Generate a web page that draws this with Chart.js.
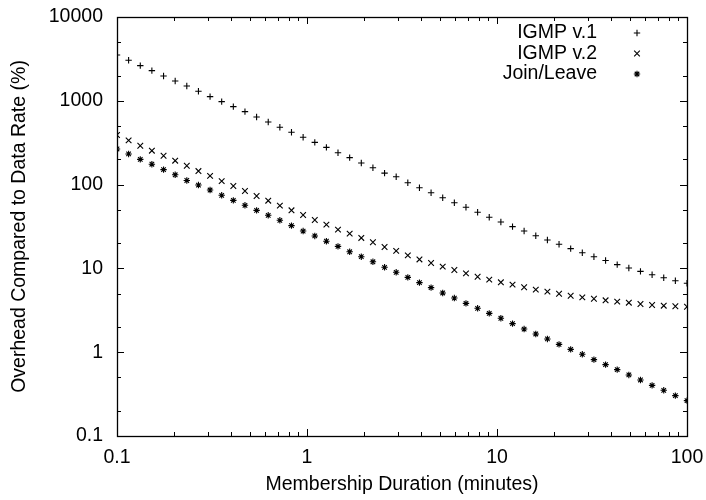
<!DOCTYPE html>
<html>
<head>
<meta charset="utf-8">
<script src="https://cdn.jsdelivr.net/npm/chart.js@4/dist/chart.umd.min.js"></script>
<style>
  html, body { margin: 0; padding: 0; background: #ffffff; }
  #wrap { width: 706px; height: 500px; }
</style>
</head>
<body>
<div id="wrap"><canvas id="c" width="706" height="500"></canvas></div>
<script>
// ---- data ----
const membershipMinutes = [0.1, 0.1151, 0.1326, 0.1526, 0.1758, 0.2024, 0.2330, 0.2683, 0.3089, 0.3556,
  0.4095, 0.4715, 0.5429, 0.6251, 0.7197, 0.8286, 0.9541, 1.099, 1.265, 1.456,
  1.677, 1.931, 2.223, 2.560, 2.947, 3.393, 3.907, 4.498, 5.179, 5.964,
  6.866, 7.906, 9.103, 10.48, 12.07, 13.89, 16.00, 18.42, 21.21, 24.42,
  28.12, 32.37, 37.28, 42.92, 49.42, 56.90, 65.51, 75.43, 86.85, 100];
const igmpV1 = [3520, 3041, 2627, 2289, 1978, 1723, 1502, 1298, 1121, 977,
  852, 742, 641, 559, 483, 421, 367, 319, 278, 240,
  210, 181, 159, 137, 124, 105, 91.8, 80.0, 69.8, 60.8,
  53.6, 46.7, 40.7, 35.8, 31.5, 27.9, 24.5, 21.8, 19.4, 17.2,
  15.4, 13.8, 12.4, 11.1, 10.1, 9.22, 8.41, 7.74, 7.13, 6.64];
const igmpV2 = [391, 337, 291, 254, 221, 193, 168, 145, 127, 110,
  96.2, 83.9, 73.1, 64.3, 56.1, 49.3, 43.4, 37.8, 33.3, 29.0,
  26.0, 23.1, 20.5, 18.0, 16.2, 14.3, 12.8, 11.6, 10.5, 9.57,
  8.73, 7.96, 7.34, 6.82, 6.40, 5.95, 5.58, 5.28, 4.99, 4.72,
  4.51, 4.35, 4.16, 4.01, 3.90, 3.76, 3.66, 3.59, 3.53, 3.49];
const joinLeave = [266, 232, 200, 175, 151, 131, 112, 98.8, 86.2, 74.5,
  64.9, 56.6, 49.3, 43.0, 37.5, 32.4, 27.9, 24.4, 21.1, 18.3,
  15.8, 13.8, 12.0, 10.3, 8.98, 7.82, 6.76, 5.89, 5.09, 4.43,
  3.83, 3.34, 2.91, 2.54, 2.19, 1.89, 1.65, 1.44, 1.24, 1.08,
  0.944, 0.815, 0.710, 0.619, 0.535, 0.466, 0.402, 0.351, 0.303, 0.264];
const seriesLabels = ['IGMP v.1', 'IGMP v.2', 'Join/Leave'];
const xTickValues = [0.1, 1, 10, 100];
const xTickLabels = ['0.1', '1', '10', '100'];
const yTickValues = [0.1, 1, 10, 100, 1000, 10000];
const yTickLabels = ['0.1', '1', '10', '100', '1000', '10000'];
const xAxisTitle = 'Membership Duration (minutes)';
const yAxisTitle = 'Overhead Compared to Data Rate (%)';

// ---- styling ----
const FONT = "'Liberation Sans', Arial, Helvetica, sans-serif";
const FS = 19.5;
const INK = '#000000';

function toPoints(ys) { return membershipMinutes.map((x, i) => ({ x: x, y: ys[i] })); }

const pointStyles = ['cross', 'crossRot', 'star'];
const pointRadii = [3.2, 4, 3.2];

const datasets = [igmpV1, igmpV2, joinLeave].map((ys, i) => ({
  label: seriesLabels[i],
  data: toPoints(ys),
  showLine: false,
  pointStyle: pointStyles[i],
  pointRadius: pointRadii[i],
  pointHoverRadius: pointRadii[i],
  pointBorderColor: INK,
  pointBackgroundColor: INK,
  pointBorderWidth: 1.1,
  borderColor: INK,
  backgroundColor: INK
}));

function zeroPad(scale) {
  scale.paddingTop = 0; scale.paddingBottom = 0;
  scale.paddingLeft = 0; scale.paddingRight = 0;
}

// frame + inward ticks, gnuplot-like
const framePlugin = {
  id: 'frame',
  beforeDatasetsDraw(chart) {
    const { ctx, chartArea: a, scales } = chart;
    const xs = scales.x, ys = scales.y;
    ctx.save();
    ctx.strokeStyle = INK;
    ctx.lineWidth = 1;
    const MAJ = 7, MIN = 4;
    for (let d = -1; d <= 2; d++) {
      for (let m = 1; m <= 9; m++) {
        const v = m * Math.pow(10, d);
        if (v < xs.min * 0.999 || v > xs.max * 1.001) continue;
        const px = Math.round(xs.getPixelForValue(v)) + 0.5;
        const len = m === 1 ? MAJ : MIN;
        ctx.beginPath();
        ctx.moveTo(px, a.bottom); ctx.lineTo(px, a.bottom - len);
        ctx.moveTo(px, a.top); ctx.lineTo(px, a.top + len);
        ctx.stroke();
      }
    }
    for (let d = -1; d <= 4; d++) {
      for (const m of [1, 2, 5]) {
        const v = m * Math.pow(10, d);
        if (v < ys.min * 0.999 || v > ys.max * 1.001) continue;
        const py = Math.round(ys.getPixelForValue(v)) + 0.5;
        const len = m === 1 ? MAJ : MIN;
        ctx.beginPath();
        ctx.moveTo(a.left, py); ctx.lineTo(a.left + len, py);
        ctx.moveTo(a.right, py); ctx.lineTo(a.right - len, py);
        ctx.stroke();
      }
    }
    ctx.lineWidth = 1.3;
    ctx.strokeRect(Math.round(a.left) + 0.5, Math.round(a.top) + 0.5,
                   Math.round(a.right - a.left), Math.round(a.bottom - a.top));
    ctx.restore();
  }
};

// gnuplot-style key: right-aligned text, symbol to the right
const keyPlugin = {
  id: 'gkey',
  afterDatasetsDraw(chart) {
    const { ctx } = chart;
    const textRight = 597, symX = 637, y0 = 33, dy = 20.5;
    ctx.save();
    ctx.font = FS + 'px ' + FONT;
    ctx.textAlign = 'right';
    ctx.textBaseline = 'middle';
    chart.data.datasets.forEach((ds, i) => {
      const y = y0 + i * dy;
      ctx.fillStyle = INK;
      ctx.fillText(ds.label, textRight, y);
      ctx.strokeStyle = INK;
      ctx.lineWidth = 1.1;
      Chart.helpers.drawPoint(ctx, { pointStyle: ds.pointStyle, radius: ds.pointRadius, borderWidth: 1.1, rotation: 0 }, symX, y);
    });
    ctx.restore();
  }
};

new Chart(document.getElementById('c'), {
  type: 'scatter',
  data: { datasets: datasets },
  options: {
    responsive: false,
    animation: false,
    events: [],
    layout: { padding: { top: 17, right: 19, left: 0, bottom: 0 } },
    plugins: { legend: { display: false }, tooltip: { enabled: false } },
    scales: {
      x: {
        type: 'logarithmic',
        min: 0.1, max: 100,
        afterBuildTicks(scale) { scale.ticks = xTickValues.map(v => ({ value: v })); },
        afterFit(scale) { scale.height = 64; zeroPad(scale); },
        grid: { display: false, drawTicks: false },
        border: { display: false },
        ticks: {
          autoSkip: false, maxRotation: 0, padding: 10,
          color: INK, font: { family: FONT, size: FS },
          callback(v) { const i = xTickValues.indexOf(v); return i >= 0 ? xTickLabels[i] : ''; }
        },
        title: { display: true, text: xAxisTitle, color: INK, font: { family: FONT, size: FS }, padding: { top: 0, bottom: 4 } }
      },
      y: {
        type: 'logarithmic',
        min: 0.1, max: 10000,
        afterBuildTicks(scale) { scale.ticks = yTickValues.map(v => ({ value: v })); },
        afterFit(scale) { scale.width = 117; zeroPad(scale); },
        grid: { display: false, drawTicks: false },
        border: { display: false },
        ticks: {
          autoSkip: false, padding: 14,
          color: INK, font: { family: FONT, size: FS },
          callback(v) { const i = yTickValues.indexOf(v); return i >= 0 ? yTickLabels[i] : ''; }
        },
        title: { display: true, text: yAxisTitle, color: INK, font: { family: FONT, size: FS }, padding: { top: 8, bottom: 0 } }
      }
    }
  },
  plugins: [framePlugin, keyPlugin]
});
</script>
</body>
</html>
